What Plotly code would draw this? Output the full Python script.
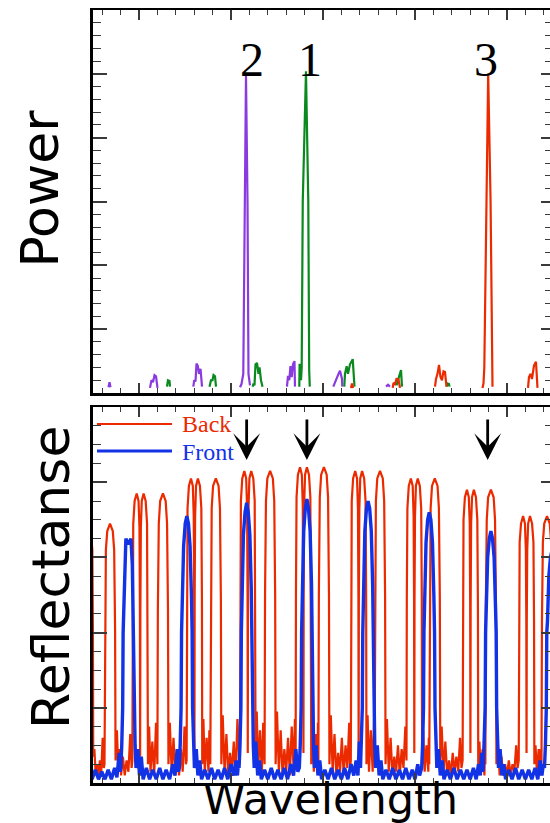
import plotly.graph_objects as go

# ---------------- TOP PANEL: lasing-line power (a.u.) vs wavelength (nm) ----------------
line2_wl = [1541.337, 1541.359, 1541.380, None,
            1542.239, 1542.272, 1542.304, 1542.337, 1542.370, 1542.402, None,
            1543.180, 1543.202, 1543.228, 1543.250, 1543.278, 1543.304, 1543.337, 1543.370, None,
            1544.196, 1544.228, 1544.267, 1544.300, 1544.326, 1544.359, 1544.380, 1544.413, None,
            1545.217, 1545.239, 1545.267, 1545.293, 1545.320, 1545.348, 1545.380, 1545.391, None,
            1546.224, 1546.283, 1546.337, 1546.370, 1546.413, 1546.420, None,
            1547.370, 1547.413, 1547.457]
line2_p = [0.09, 0.17, 0.09, None,
           0.08, 0.20, 0.17, 0.28, 0.26, 0.08, None,
           0.10, 0.20, 0.18, 0.46, 0.43, 0.30, 0.38, 0.10, None,
           0.09, 0.14, 0.30, 3.00, 4.97, 3.00, 0.30, 0.12, None,
           0.10, 0.27, 0.20, 0.42, 0.25, 0.45, 0.50, 0.10, None,
           0.10, 0.22, 0.30, 0.35, 0.22, 0.10, None,
           0.10, 0.13, 0.10]

line1_wl = [1542.609, 1542.630, 1542.663, 1542.674, None,
            1543.533, 1543.565, 1543.598, 1543.620, 1543.652, 1543.674, None,
            1544.472, 1544.489, 1544.511, 1544.533, 1544.565, 1544.598, 1544.620, 1544.652, 1544.685, None,
            1545.485, 1545.491, 1545.515, 1545.522, 1545.537, 1545.560, 1545.630, 1545.680, 1545.700, 1545.713, None,
            1546.463, 1546.478, 1546.515, 1546.543, 1546.587, 1546.646, 1546.685, None,
            1547.598, 1547.630, 1547.674, 1547.696, 1547.717, None,
            1548.685, 1548.707, 1548.739, 1548.750]
line1_p = [0.10, 0.20, 0.19, 0.10, None,
           0.10, 0.20, 0.20, 0.28, 0.26, 0.10, None,
           0.10, 0.15, 0.12, 0.45, 0.47, 0.30, 0.40, 0.20, 0.10, None,
           0.10, 0.44, 0.44, 0.20, 0.40, 3.00, 5.04, 3.00, 0.35, 0.10, None,
           0.10, 0.30, 0.42, 0.30, 0.45, 0.53, 0.10, None,
           0.12, 0.20, 0.30, 0.36, 0.10, None,
           0.10, 0.15, 0.14, 0.10]

line3_wl = [1546.609, 1546.630, 1546.652, None,
            1547.515, 1547.533, 1547.565, 1547.598, 1547.641, 1547.674, None,
            1548.435, 1548.457, 1548.489, 1548.522, 1548.554, 1548.587, 1548.620, 1548.652, 1548.685, None,
            1549.467, 1549.489, 1549.507, 1549.559, 1549.591, 1549.643, 1549.667, 1549.685, None,
            1550.457, 1550.478, 1550.511, 1550.543, 1550.587, 1550.630, 1550.663]
line3_p = [0.08, 0.15, 0.08, None,
           0.08, 0.16, 0.14, 0.22, 0.21, 0.08, None,
           0.10, 0.22, 0.30, 0.44, 0.25, 0.20, 0.34, 0.33, 0.10, None,
           0.08, 0.15, 0.40, 3.00, 5.00, 3.00, 0.40, 0.10, None,
           0.08, 0.25, 0.30, 0.22, 0.43, 0.49, 0.08]

line_labels = ["2", "1", "3"]
line_label_wl = [1544.467, 1545.717, 1549.550]
line_label_p = [5.22, 5.22, 5.22]

# ---------------- BOTTOM PANEL: reflectance of back / front gratings ----------------
back_pts = [
    (1540.83, 0.06), (1540.84, 0.41), (1540.85, 0.61), (1540.87, 0.67), (1540.91, 0.69), (1540.955, 0.67), (1540.985, 0.62), (1540.998, 0.41), (1541.005, 0.07),
    (1541.03, 0.09), (1541.06, 0.02), (1541.09, 0.05), (1541.12, 0.02), (1541.15, 0.06), (1541.18, 0.03), (1541.21, 0.12), (1541.235, 0.04),
    (1541.25, 0.05), (1541.26, 0.41), (1541.28, 0.62), (1541.31, 0.67), (1541.37, 0.69), (1541.43, 0.67), (1541.46, 0.62), (1541.48, 0.41), (1541.49, 0.06),
    (1541.52, 0.14), (1541.55, 0.03), (1541.58, 0.09), (1541.61, 0.02), (1541.65, 0.07), (1541.69, 0.02), (1541.73, 0.06), (1541.77, 0.03), (1541.81, 0.13), (1541.84, 0.04),
    (1541.855, 0.06), (1541.862, 0.46), (1541.875, 0.69), (1541.905, 0.75), (1541.95, 0.77), (1541.99, 0.75), (1542.01, 0.68), (1542.02, 0.46), (1542.025, 0.07),
    (1542.03, 0.46), (1542.04, 0.68), (1542.06, 0.75), (1542.10, 0.77), (1542.145, 0.75), (1542.175, 0.69), (1542.188, 0.46), (1542.195, 0.05),
    (1542.22, 0.15), (1542.25, 0.03), (1542.29, 0.11), (1542.33, 0.02), (1542.37, 0.16),
    (1542.40, 0.05), (1542.41, 0.46), (1542.43, 0.69), (1542.46, 0.75), (1542.52, 0.77), (1542.58, 0.75), (1542.61, 0.69), (1542.63, 0.46), (1542.64, 0.05),
    (1542.67, 0.16), (1542.71, 0.03), (1542.75, 0.12), (1542.79, 0.02), (1542.83, 0.07), (1542.87, 0.02), (1542.91, 0.09), (1542.95, 0.03), (1542.99, 0.15), (1543.02, 0.05),
    (1543.035, 0.06), (1543.042, 0.49), (1543.055, 0.73), (1543.085, 0.79), (1543.13, 0.81), (1543.17, 0.79), (1543.19, 0.71), (1543.20, 0.49), (1543.205, 0.08),
    (1543.21, 0.49), (1543.22, 0.71), (1543.24, 0.79), (1543.28, 0.81), (1543.325, 0.79), (1543.355, 0.73), (1543.368, 0.49), (1543.375, 0.05),
    (1543.40, 0.17), (1543.43, 0.03), (1543.47, 0.12), (1543.51, 0.03), (1543.53, 0.14),
    (1543.55, 0.05), (1543.56, 0.49), (1543.58, 0.73), (1543.61, 0.79), (1543.67, 0.81), (1543.73, 0.79), (1543.76, 0.73), (1543.78, 0.49), (1543.79, 0.05),
    (1543.82, 0.18), (1543.86, 0.03), (1543.90, 0.13), (1543.94, 0.02), (1543.98, 0.08), (1544.02, 0.03), (1544.06, 0.11), (1544.10, 0.02), (1544.14, 0.17), (1544.18, 0.05),
    (1544.195, 0.06), (1544.202, 0.50), (1544.215, 0.75), (1544.245, 0.81), (1544.29, 0.83), (1544.33, 0.81), (1544.35, 0.73), (1544.36, 0.50), (1544.365, 0.08),
    (1544.37, 0.50), (1544.38, 0.73), (1544.40, 0.81), (1544.44, 0.83), (1544.485, 0.81), (1544.515, 0.75), (1544.528, 0.50), (1544.535, 0.05),
    (1544.56, 0.19), (1544.59, 0.03), (1544.63, 0.14), (1544.67, 0.03), (1544.70, 0.16),
    (1544.73, 0.05), (1544.74, 0.50), (1544.76, 0.75), (1544.79, 0.81), (1544.85, 0.83), (1544.91, 0.81), (1544.94, 0.75), (1544.96, 0.50), (1544.97, 0.05),
    (1545.00, 0.19), (1545.04, 0.03), (1545.08, 0.14), (1545.12, 0.02), (1545.16, 0.09), (1545.20, 0.03), (1545.24, 0.12), (1545.28, 0.02), (1545.32, 0.15), (1545.36, 0.04), (1545.39, 0.17),
    (1545.405, 0.06), (1545.412, 0.50), (1545.425, 0.76), (1545.455, 0.82), (1545.50, 0.84), (1545.54, 0.82), (1545.56, 0.74), (1545.57, 0.50), (1545.575, 0.08),
    (1545.58, 0.50), (1545.59, 0.74), (1545.61, 0.82), (1545.65, 0.84), (1545.695, 0.82), (1545.725, 0.76), (1545.738, 0.50), (1545.745, 0.05),
    (1545.77, 0.18), (1545.80, 0.03), (1545.84, 0.13), (1545.88, 0.03), (1545.89, 0.16),
    (1545.90, 0.05), (1545.91, 0.50), (1545.93, 0.76), (1545.96, 0.82), (1546.02, 0.84), (1546.08, 0.82), (1546.11, 0.76), (1546.13, 0.50), (1546.14, 0.05),
    (1546.17, 0.18), (1546.21, 0.03), (1546.25, 0.13), (1546.29, 0.02), (1546.33, 0.08), (1546.37, 0.03), (1546.41, 0.12), (1546.45, 0.02), (1546.49, 0.10), (1546.53, 0.04), (1546.57, 0.16), (1546.59, 0.04),
    (1546.605, 0.06), (1546.612, 0.50), (1546.625, 0.75), (1546.655, 0.81), (1546.70, 0.83), (1546.74, 0.81), (1546.76, 0.73), (1546.77, 0.50), (1546.775, 0.08),
    (1546.78, 0.50), (1546.79, 0.73), (1546.81, 0.81), (1546.85, 0.83), (1546.895, 0.81), (1546.925, 0.75), (1546.938, 0.50), (1546.945, 0.05),
    (1546.97, 0.18), (1547.00, 0.03), (1547.04, 0.14), (1547.08, 0.03), (1547.11, 0.17),
    (1547.12, 0.05), (1547.13, 0.50), (1547.15, 0.75), (1547.18, 0.81), (1547.24, 0.83), (1547.30, 0.81), (1547.33, 0.75), (1547.35, 0.50), (1547.36, 0.05),
    (1547.39, 0.17), (1547.43, 0.03), (1547.47, 0.12), (1547.51, 0.02), (1547.55, 0.07), (1547.59, 0.03), (1547.63, 0.10), (1547.67, 0.02), (1547.71, 0.09), (1547.75, 0.04), (1547.79, 0.15),
    (1547.815, 0.06), (1547.822, 0.49), (1547.835, 0.73), (1547.865, 0.79), (1547.91, 0.81), (1547.95, 0.79), (1547.97, 0.71), (1547.98, 0.49), (1547.985, 0.08),
    (1547.99, 0.49), (1548.00, 0.71), (1548.02, 0.79), (1548.06, 0.81), (1548.105, 0.79), (1548.135, 0.73), (1548.148, 0.49), (1548.155, 0.05),
    (1548.18, 0.14), (1548.21, 0.03), (1548.25, 0.10), (1548.29, 0.03), (1548.30, 0.12),
    (1548.31, 0.05), (1548.32, 0.49), (1548.34, 0.73), (1548.37, 0.79), (1548.43, 0.81), (1548.49, 0.79), (1548.52, 0.73), (1548.54, 0.49), (1548.55, 0.05),
    (1548.58, 0.15), (1548.62, 0.03), (1548.66, 0.11), (1548.70, 0.02), (1548.74, 0.06), (1548.78, 0.02), (1548.82, 0.08), (1548.86, 0.03), (1548.90, 0.07), (1548.94, 0.03), (1548.98, 0.12), (1549.01, 0.04),
    (1549.035, 0.06), (1549.042, 0.47), (1549.055, 0.70), (1549.085, 0.76), (1549.13, 0.78), (1549.17, 0.76), (1549.19, 0.69), (1549.20, 0.47), (1549.205, 0.08),
    (1549.21, 0.47), (1549.22, 0.69), (1549.24, 0.76), (1549.28, 0.78), (1549.325, 0.76), (1549.355, 0.70), (1549.368, 0.47), (1549.375, 0.05),
    (1549.40, 0.11), (1549.43, 0.03), (1549.47, 0.09), (1549.51, 0.02), (1549.52, 0.10),
    (1549.53, 0.05), (1549.54, 0.47), (1549.56, 0.70), (1549.59, 0.76), (1549.65, 0.78), (1549.71, 0.76), (1549.74, 0.70), (1549.76, 0.47), (1549.77, 0.05),
    (1549.80, 0.11), (1549.84, 0.02), (1549.88, 0.07), (1549.92, 0.02), (1549.96, 0.05), (1550.00, 0.02), (1550.04, 0.06), (1550.08, 0.02), (1550.12, 0.05), (1550.16, 0.03), (1550.20, 0.10), (1550.23, 0.04),
    (1550.255, 0.06), (1550.262, 0.43), (1550.275, 0.64), (1550.305, 0.69), (1550.35, 0.71), (1550.39, 0.69), (1550.41, 0.62), (1550.42, 0.43), (1550.425, 0.08),
    (1550.43, 0.43), (1550.44, 0.62), (1550.46, 0.69), (1550.50, 0.71), (1550.545, 0.69), (1550.575, 0.64), (1550.588, 0.43), (1550.595, 0.05),
    (1550.62, 0.10), (1550.65, 0.03), (1550.69, 0.09), (1550.73, 0.02), (1550.74, 0.09),
    (1550.75, 0.05), (1550.76, 0.43), (1550.78, 0.64), (1550.81, 0.69), (1550.87, 0.71), (1550.93, 0.69), (1550.96, 0.64), (1550.98, 0.43), (1550.99, 0.05),
]

front_pts = [
    (1540.90, 0.02), (1540.94, 0.03), (1540.98, 0.01), (1541.05, 0.035), (1541.12, 0.01), (1541.19, 0.03), (1541.26, 0.01), (1541.33, 0.035), (1541.40, 0.01),
    (1541.47, 0.04), (1541.52, 0.015), (1541.55, 0.05), (1541.57, 0.08), (1541.59, 0.03),
    (1541.605, 0.04), (1541.625, 0.10), (1541.645, 0.20), (1541.655, 0.40), (1541.67, 0.46), (1541.685, 0.58), (1541.715, 0.65), (1541.77, 0.635),
    (1541.825, 0.65), (1541.855, 0.58), (1541.87, 0.46), (1541.885, 0.40), (1541.895, 0.20), (1541.915, 0.10), (1541.935, 0.04),
    (1541.975, 0.09), (1542.01, 0.02), (1542.05, 0.07), (1542.09, 0.01), (1542.16, 0.04), (1542.23, 0.01), (1542.30, 0.035), (1542.375, 0.01),
    (1542.45, 0.04), (1542.52, 0.01), (1542.59, 0.035), (1542.665, 0.01), (1542.735, 0.05), (1542.78, 0.02), (1542.83, 0.09), (1542.855, 0.03),
    (1542.875, 0.04), (1542.895, 0.10), (1542.915, 0.20), (1542.925, 0.40), (1542.94, 0.50), (1542.97, 0.63), (1543.005, 0.69), (1543.04, 0.71),
    (1543.075, 0.69), (1543.11, 0.63), (1543.14, 0.50), (1543.155, 0.40), (1543.165, 0.20), (1543.185, 0.10), (1543.205, 0.04),
    (1543.245, 0.09), (1543.28, 0.02), (1543.32, 0.06), (1543.36, 0.01), (1543.43, 0.035), (1543.50, 0.01), (1543.575, 0.04), (1543.645, 0.01),
    (1543.72, 0.035), (1543.79, 0.01), (1543.86, 0.04), (1543.93, 0.01), (1544.00, 0.05), (1544.06, 0.02), (1544.11, 0.06), (1544.14, 0.02), (1544.16, 0.05),
    (1544.175, 0.04), (1544.195, 0.10), (1544.215, 0.20), (1544.225, 0.40), (1544.24, 0.52), (1544.27, 0.66), (1544.305, 0.72), (1544.34, 0.745),
    (1544.375, 0.72), (1544.41, 0.66), (1544.44, 0.52), (1544.455, 0.40), (1544.465, 0.20), (1544.485, 0.10), (1544.505, 0.04),
    (1544.54, 0.11), (1544.58, 0.02), (1544.62, 0.06), (1544.66, 0.01), (1544.73, 0.035), (1544.80, 0.01), (1544.875, 0.04), (1544.945, 0.01),
    (1545.02, 0.035), (1545.09, 0.01), (1545.16, 0.04), (1545.23, 0.01), (1545.30, 0.05), (1545.36, 0.02), (1545.41, 0.09), (1545.45, 0.03),
    (1545.485, 0.04), (1545.505, 0.10), (1545.525, 0.20), (1545.535, 0.40), (1545.55, 0.53), (1545.58, 0.67), (1545.615, 0.73), (1545.65, 0.755),
    (1545.685, 0.73), (1545.72, 0.67), (1545.75, 0.53), (1545.765, 0.40), (1545.775, 0.20), (1545.795, 0.10), (1545.815, 0.04),
    (1545.85, 0.10), (1545.89, 0.02), (1545.93, 0.06), (1545.97, 0.01), (1546.04, 0.035), (1546.11, 0.01), (1546.185, 0.04), (1546.255, 0.01),
    (1546.33, 0.035), (1546.40, 0.01), (1546.47, 0.04), (1546.54, 0.01), (1546.61, 0.05), (1546.67, 0.02), (1546.72, 0.06), (1546.76, 0.02), (1546.79, 0.11),
    (1546.815, 0.04), (1546.835, 0.10), (1546.855, 0.20), (1546.865, 0.40), (1546.88, 0.525), (1546.91, 0.67), (1546.945, 0.73), (1546.98, 0.75),
    (1547.015, 0.73), (1547.05, 0.67), (1547.08, 0.525), (1547.095, 0.40), (1547.105, 0.20), (1547.125, 0.10), (1547.145, 0.04),
    (1547.18, 0.10), (1547.22, 0.02), (1547.26, 0.06), (1547.30, 0.01), (1547.37, 0.035), (1547.44, 0.01), (1547.515, 0.04), (1547.585, 0.01),
    (1547.66, 0.035), (1547.73, 0.01), (1547.80, 0.04), (1547.87, 0.01), (1547.94, 0.035), (1548.00, 0.01), (1548.06, 0.05), (1548.10, 0.02), (1548.125, 0.03),
    (1548.145, 0.04), (1548.165, 0.10), (1548.185, 0.20), (1548.195, 0.40), (1548.21, 0.50), (1548.24, 0.64), (1548.275, 0.70), (1548.31, 0.72),
    (1548.345, 0.70), (1548.38, 0.64), (1548.41, 0.50), (1548.425, 0.40), (1548.435, 0.20), (1548.455, 0.10), (1548.475, 0.04),
    (1548.51, 0.09), (1548.55, 0.02), (1548.59, 0.06), (1548.63, 0.01), (1548.70, 0.035), (1548.77, 0.01), (1548.845, 0.04), (1548.915, 0.01),
    (1548.99, 0.035), (1549.06, 0.01), (1549.13, 0.035), (1549.20, 0.01), (1549.27, 0.04), (1549.33, 0.01), (1549.38, 0.05), (1549.42, 0.02), (1549.45, 0.08), (1549.47, 0.03),
    (1549.485, 0.04), (1549.505, 0.10), (1549.525, 0.20), (1549.535, 0.40), (1549.55, 0.47), (1549.58, 0.60), (1549.615, 0.65), (1549.65, 0.67),
    (1549.685, 0.65), (1549.72, 0.60), (1549.75, 0.47), (1549.765, 0.40), (1549.775, 0.20), (1549.795, 0.10), (1549.815, 0.04),
    (1549.85, 0.09), (1549.89, 0.02), (1549.93, 0.05), (1549.97, 0.01), (1550.04, 0.035), (1550.11, 0.01), (1550.185, 0.04), (1550.255, 0.01),
    (1550.33, 0.035), (1550.40, 0.01), (1550.47, 0.035), (1550.54, 0.01), (1550.61, 0.04), (1550.67, 0.01), (1550.72, 0.06), (1550.76, 0.02), (1550.79, 0.05),
    (1550.815, 0.04), (1550.835, 0.10), (1550.855, 0.20), (1550.865, 0.40), (1550.88, 0.43), (1550.91, 0.55), (1550.945, 0.60), (1550.98, 0.62),
]
back_wl = [p[0] for p in back_pts]
back_r = [p[1] for p in back_pts]
front_wl = [p[0] for p in front_pts]
front_r = [p[1] for p in front_pts]

arrow_wl = [1544.34, 1545.65, 1549.58]
arrow_tip_r = 0.859

# ---------------- styling ----------------
C_PURPLE = "#8A3BE0"
C_GREEN = "#0A8A1E"
C_RED = "#EB2A00"
C_BLUE = "#1232E6"
TICK_C = "#3a3a3a"

X_RANGE = [1541.0, 1550.935]
Y_TOP = [0, 6]
Y_BOT = [0, 1]
DOM_BOT = [0, 0.4864]
DOM_TOP = [0.5045, 1]

fig = go.Figure()
fig.add_trace(go.Scatter(x=line2_wl, y=line2_p, mode="lines", line=dict(color=C_PURPLE, width=2.2),
                         xaxis="x2", yaxis="y2", showlegend=False, connectgaps=False, hoverinfo="skip"))
fig.add_trace(go.Scatter(x=line1_wl, y=line1_p, mode="lines", line=dict(color=C_GREEN, width=2.2),
                         xaxis="x2", yaxis="y2", showlegend=False, connectgaps=False, hoverinfo="skip"))
fig.add_trace(go.Scatter(x=line3_wl, y=line3_p, mode="lines", line=dict(color=C_RED, width=2.2),
                         xaxis="x2", yaxis="y2", showlegend=False, connectgaps=False, hoverinfo="skip"))
fig.add_trace(go.Scatter(x=back_wl, y=back_r, mode="lines", name="Back", line=dict(color=C_RED, width=2.2),
                         xaxis="x", yaxis="y", showlegend=False, hoverinfo="skip"))
fig.add_trace(go.Scatter(x=front_wl, y=front_r, mode="lines", name="Front", line=dict(color=C_BLUE, width=3.4),
                         xaxis="x", yaxis="y", showlegend=False, hoverinfo="skip"))
# empty traces so that the mirror (top / right) frame axes are drawn
fig.add_trace(go.Scatter(x=[None], y=[None], xaxis="x3", yaxis="y3", showlegend=False, hoverinfo="skip"))
fig.add_trace(go.Scatter(x=[None], y=[None], xaxis="x4", yaxis="y4", showlegend=False, hoverinfo="skip"))


def xax(anchor, side="bottom", overlaying=None, lw=3):
    d = dict(range=X_RANGE, anchor=anchor, side=side, showline=True, linecolor="black", linewidth=lw,
             ticks="inside", tick0=1542, dtick=2, ticklen=10, tickwidth=1.5, tickcolor=TICK_C,
             minor=dict(ticks="inside", dtick=0.4, ticklen=5, tickwidth=1.3, tickcolor=TICK_C),
             showticklabels=False, showgrid=False, zeroline=False, mirror=False, fixedrange=True)
    if overlaying:
        d["overlaying"] = overlaying
    return d


def yax(anchor, rng, dtick, mdtick, domain=None, side="left", overlaying=None, tl=14, mtl=8, show_line=True):
    d = dict(range=rng, anchor=anchor, side=side, showline=show_line, linecolor="black", linewidth=3,
             ticks="inside", tick0=0, dtick=dtick, ticklen=tl, tickwidth=1.5, tickcolor=TICK_C,
             minor=dict(ticks="inside", dtick=mdtick, ticklen=mtl, tickwidth=1.3, tickcolor=TICK_C),
             showticklabels=False, showgrid=False, zeroline=False, mirror=False, fixedrange=True)
    if domain:
        d["domain"] = domain
    if overlaying:
        d["overlaying"] = overlaying
    return d


fig.update_layout(
    width=550, height=823,
    margin=dict(l=93, r=0, t=10, b=40),
    paper_bgcolor="white", plot_bgcolor="white",
    showlegend=False,
    xaxis=xax("y", lw=3),
    yaxis=yax("x", Y_BOT, 0.2, 0.05, domain=DOM_BOT),
    xaxis2=xax("y2", lw=3),
    yaxis2=yax("x2", Y_TOP, 1, 0.2, domain=DOM_TOP),
    xaxis3=xax("y", side="top", overlaying="x", lw=2),
    xaxis4=xax("y2", side="top", overlaying="x2", lw=2),
    yaxis3=yax("x", Y_BOT, 0.2, 0.05, side="right", overlaying="y", tl=9, mtl=5, show_line=False),
    yaxis4=yax("x2", Y_TOP, 1, 0.2, side="right", overlaying="y2", tl=9, mtl=5, show_line=False),
)

ann = []
# peak labels
for t, xv, yv in zip(line_labels, line_label_wl, line_label_p):
    ann.append(dict(text=t, x=xv, y=yv, xref="x2", yref="y2", showarrow=False, xanchor="center", yanchor="middle",
                    font=dict(family="Liberation Serif, Times New Roman, serif", size=48, color="black")))
# arrows
for xv in arrow_wl:
    ann.append(dict(text="", x=xv, y=arrow_tip_r, xref="x", yref="y", showarrow=True, ax=0, ay=-42,
                    arrowhead=3, arrowsize=1.6, arrowwidth=2.8, arrowcolor="black", standoff=0))
# axis titles
ann.append(dict(text="Power", x=0, y=0.7684, xref="paper", yref="paper", xshift=-52.5, textangle=-90,
                showarrow=False, xanchor="center", yanchor="middle",
                font=dict(family="DejaVu Sans", size=52, color="black")))
ann.append(dict(text="Reflectanse", x=0, y=0.2658, xref="paper", yref="paper", xshift=-42.5, textangle=-90,
                showarrow=False, xanchor="center", yanchor="middle",
                font=dict(family="DejaVu Sans", size=52, color="black")))
ann.append(dict(text="Wavelength", x=0.519, y=0, xref="paper", yref="paper", yshift=-16,
                showarrow=False, xanchor="center", yanchor="middle",
                font=dict(family="DejaVu Sans", size=43, color="black")))
# legend text
ann.append(dict(text="Back", x=0.190, y=0.954, xref="x domain", yref="y domain", showarrow=False,
                xanchor="left", yanchor="middle",
                font=dict(family="Liberation Serif, Times New Roman, serif", size=24, color=C_RED)))
ann.append(dict(text="Front", x=0.190, y=0.880, xref="x domain", yref="y domain", showarrow=False,
                xanchor="left", yanchor="middle",
                font=dict(family="Liberation Serif, Times New Roman, serif", size=24, color=C_BLUE)))
fig.update_layout(annotations=ann)

# legend keys
fig.add_shape(type="line", xref="x domain", yref="y domain", x0=0.00875, x1=0.1729, y0=0.9548, y1=0.9548,
              line=dict(color=C_RED, width=2.2))
fig.add_shape(type="line", xref="x domain", yref="y domain", x0=0.00875, x1=0.1729, y0=0.883, y1=0.883,
              line=dict(color=C_BLUE, width=2.8))

fig.write_html("out.html", config={"displayModeBar": False},
               post_script="document.body.style.margin='0';")
